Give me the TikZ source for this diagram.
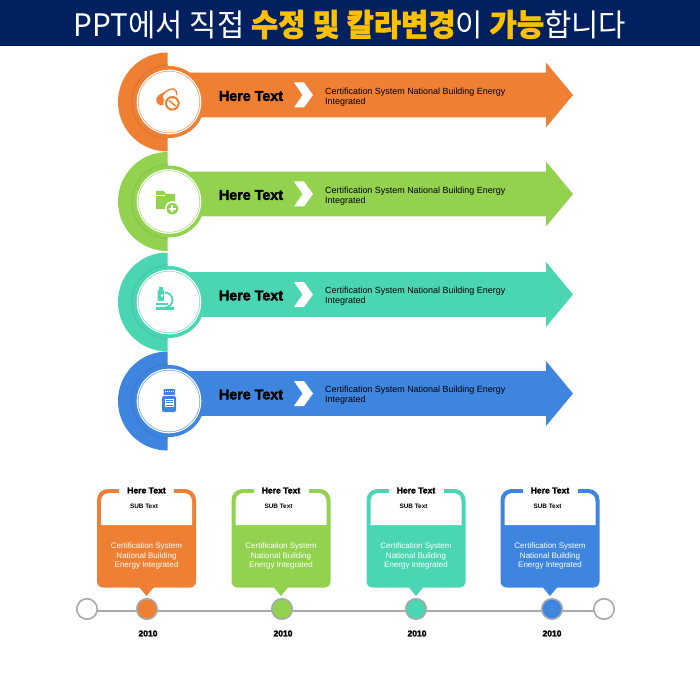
\documentclass[tikz,border=0pt]{standalone}
\usepackage{fontspec}
\setmainfont{Liberation Sans}
\newfontfamily\heavyfont[BoldFeatures={FakeBold=2.6}]{Liberation Sans}
\newfontfamily\krfont[BoldFeatures={FakeBold=1.5}]{Noto Sans CJK KR}
\usetikzlibrary{backgrounds}
\definecolor{navy}{HTML}{002060}
\definecolor{gold}{HTML}{FFC000}
\definecolor{cOrange}{HTML}{EF7F33}
\definecolor{cGreen}{HTML}{92D24F}
\definecolor{cTeal}{HTML}{4BD6B3}
\definecolor{cBlue}{HTML}{3E85E0}
\definecolor{railgray}{HTML}{A9A9A9}
\tikzset{
  every picture/.style={x=1pt,y=-1pt,line join=round},
  heading/.style={font=\heavyfont\bfseries\fontsize{14.3}{15}\selectfont,inner sep=0pt},
  bodytext/.style={font=\fontsize{8.95}{10}\selectfont,align=left,anchor=west,inner sep=0pt,text=black},
  cardhead/.style={font=\heavyfont\bfseries\fontsize{8.6}{9}\selectfont,inner sep=0pt},
  cardsub/.style={font=\bfseries\fontsize{6.4}{7}\selectfont,inner sep=0pt},
  cardtext/.style={font=\fontsize{8}{8.7}\selectfont,text=white,inner sep=0pt,align=center},
  yearlabel/.style={font=\heavyfont\bfseries\fontsize{8.5}{9}\selectfont,inner sep=0pt},
  railnode/.style={circle,draw=railgray,line width=1.6pt,minimum size=20.5pt,inner sep=0pt},
}
\begin{document}
\begin{tikzpicture}
\useasboundingbox (0,0) rectangle (700,700);
\fill[navy] (0,0) rectangle (700,46);
\node (title) at (350,24.5) [inner sep=0pt,text=white,font=\krfont\fontsize{31}{34}\selectfont]
  {\scalebox{.957}[1]{PPT에서 직접 {\bfseries\color{gold}수정 및 칼라변경}이 {\bfseries\color{gold}가능}합니다}};
% big arrows
\foreach \i/\cy/\by/\col in {1/102/95/cOrange,2/201.5/194/cGreen,3/302/294.5/cTeal,4/401/393.5/cBlue}{
  \fill[\col] (167.5,\cy-49.5) arc[start angle=270,end angle=90,radius=49.5] -- cycle;
  \fill[\col] (180,\by-22.3) -- (546,\by-22.3) -- (546,\by-32.5) -- (573,\by) -- (546,\by+32.5)
    -- (546,\by+22.3) -- (180,\by+22.3) -- cycle;
  \begin{scope}
  \clip (100,\cy-45) rectangle (167.5,\cy+45);
  \fill[\col!88!black,opacity=.4] (169,\cy) circle[radius=38];
  \end{scope}
  \fill[\col] (169,\cy) circle[radius=36];
  \fill[white] (169,\cy) circle[radius=32.3];
  \draw[\col!75!white,line width=.6pt] (169,\cy) circle[radius=30.8];
  \fill[white] (294,\by-12.5) -- (304,\by-12.5) -- (313,\by) -- (304,\by+12.5) -- (294,\by+12.5) -- (302.5,\by) -- cycle;
  \node (head\i) at (251,\by+1) [heading] {Here Text};
  \node (body\i) at (325,\by+2) [bodytext] {Certification System National Building Energy\\Integrated};
}
% pill
\draw[cOrange,line width=11pt,line cap=round] (161.5,100) -- (172,93.5);
\draw[white,line width=8pt,line cap=round] (167,96.7) -- (172,93.5);
\fill[white] (172.3,103.3) circle[radius=9];
\draw[cOrange,line width=2pt] (172.3,103.3) circle[radius=6.3];
\draw[cOrange,line width=1.5pt] (169,100.5) -- (175.5,106);
% folder
\fill[cGreen] (156,191) -- (164,191) -- (166,194) -- (175,194) -- (175,209) -- (156,209) -- cycle;
\draw[white,line width=.6pt] (156,195) -- (165,195);
\fill[white] (172.3,208.7) circle[radius=7.5];
\fill[cGreen] (172.3,208.7) circle[radius=5.8];
\draw[white,line width=1.8pt] (169,208.7) -- (175.6,208.7) (172.3,205.4) -- (172.3,212);
% microscope
\fill[cTeal] (156,307.2) rectangle (174,310);
\fill[cTeal] (156,303) rectangle (168,305);
\fill[cTeal] (158.5,287) rectangle (163,289.5);
\fill[cTeal,rounded corners=1pt] (157.5,290) rectangle (164,301);
\fill[white] (162,295.5) circle[radius=1.5];
\draw[cTeal,line width=1.7pt] (165,292.5) arc[start angle=270,end angle=450,radius=7.5];
% bottle
\fill[cBlue,rounded corners=.8pt] (163.5,389) rectangle (175,395);
\draw[white,line width=.8pt,dash pattern=on 1pt off 1pt] (165,391.5) -- (174,391.5);
\fill[cBlue,rounded corners=2pt] (162,396) rectangle (176,412);
\fill[white] (164.7,398.5) rectangle (174,407);
\draw[cBlue,line width=.7pt] (166,400.5) -- (172.8,400.5) (166,402.8) -- (172.8,402.8) (166,405) -- (172.8,405);
% timeline cards
\foreach \i/\cx/\mx/\lx/\col in {1/146.5/147/148/cOrange,2/281/282/283/cGreen,3/416/416/417/cTeal,4/550/552/552/cBlue}{
  \fill[\col] (\cx-49.5,540) [rounded corners=11pt] -- (\cx-49.5,489) -- (\cx+49.5,489) [sharp corners] -- (\cx+49.5,540)
    [rounded corners=6pt] -- (\cx+49.5,587.5) -- (\cx-49.5,587.5) [sharp corners] -- cycle;
  \fill[\col] (\cx-7.5,587) -- (\cx+7.5,587) -- (\cx,596) -- cycle;
  \fill[white] (\cx-45.5,525) [rounded corners=8pt] -- (\cx-45.5,493) -- (\cx+45.5,493) [sharp corners] -- (\cx+45.5,525) -- cycle;
  \fill[white] (\cx-27.5,487) rectangle (\cx+27.5,494);
  \node (cardhead\i) at (\cx,490.5) [cardhead] {Here Text};
  \node (cardsub\i) at (\cx-2.5,506.5) [cardsub] {SUB Text};
  \node (cardtop\i) at (\cx,546) [cardtext] {Certification System};
  \node (cardtext\i) at (\cx,561) [cardtext] {National Building\\Energy Integrated};
  \node (mark\i) at (\mx,609) [railnode,fill=\col] {};
  \node (year\i) at (\lx,633.5) [yearlabel] {2010};
}
\node (railstart) at (87,609) [railnode,fill=white] {};
\node (railend) at (604,609) [railnode,fill=white] {};
\begin{pgfonlayer}{background}
\draw[railgray,line width=1.5pt] ([yshift=-2pt]railstart.center) -- ([yshift=-2pt]railend.center);
\end{pgfonlayer}
\end{tikzpicture}
\end{document}
